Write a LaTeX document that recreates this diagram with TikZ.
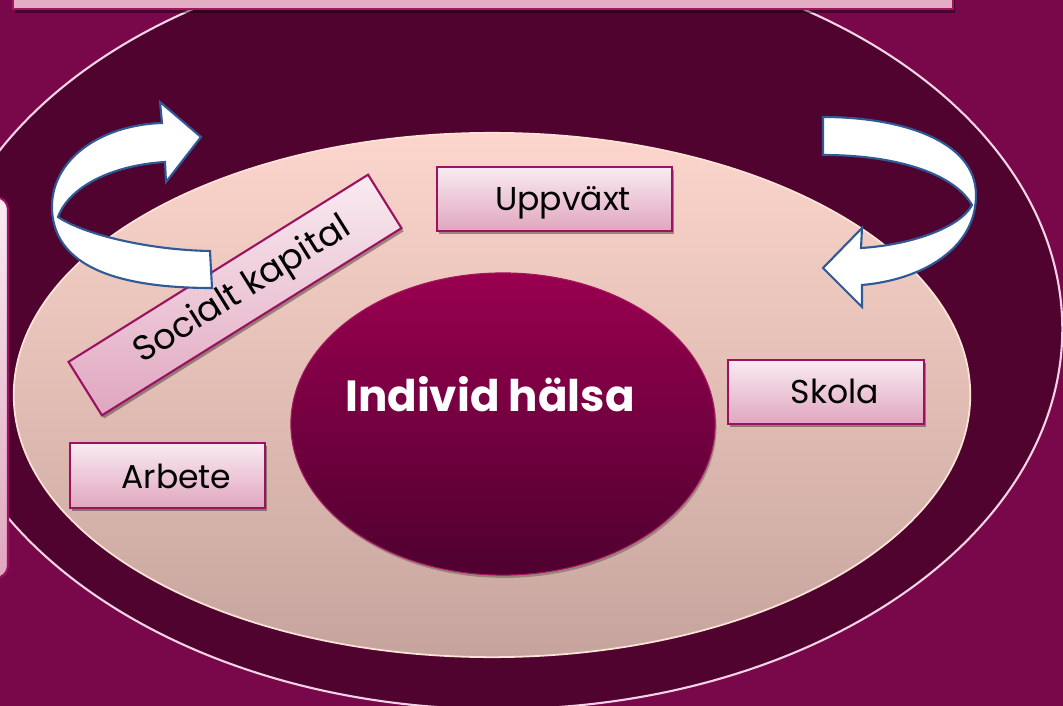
\documentclass[tikz,border=0pt]{standalone}
\usepackage{fontspec}
\setmainfont{Poppins}
\usetikzlibrary{shapes.geometric,shadows}

\definecolor{bgmag}{HTML}{78084A}
\definecolor{ringfill}{HTML}{50032F}
\definecolor{ringline}{HTML}{F5D3E6}
\definecolor{peachtop}{HTML}{FCD6CC}
\definecolor{peachbot}{HTML}{C6A49D}
\definecolor{peachline}{HTML}{FCE3D8}
\definecolor{coretop}{HTML}{99004F}
\definecolor{corebot}{HTML}{4F0030}
\definecolor{coreline}{HTML}{A8155F}
\definecolor{boxtop}{HTML}{F9EBF1}
\definecolor{boxbot}{HTML}{E0A6BF}
\definecolor{boxline}{HTML}{9C1262}
\definecolor{arrowline}{HTML}{2F5A95}
\definecolor{bartop}{HTML}{E3AEC3}
\definecolor{barline}{HTML}{A5155F}

\tikzset{
  labelbox/.style={rectangle, draw=boxline, line width=0.6pt,
    top color=boxtop, bottom color=boxbot, inner sep=0pt,
    drop shadow={shadow xshift=0.6pt, shadow yshift=-0.9pt, fill=black, opacity=0.35}},
  labeltext/.style={font=\fontsize{9.4pt}{11pt}\selectfont, text=black, anchor=base, inner sep=0pt},
  turnarrow/.style={fill=white, draw=arrowline, line width=0.6pt, line join=miter}
}

\begin{document}
\begin{tikzpicture}[x=0.01cm, y=-0.01cm]
\useasboundingbox (0,0) rectangle (1063,706);
\begin{scope}
\clip (0,0) rectangle (1063,706);

% background
\fill[bgmag] (0,0) rectangle (1063,706);

% outer ring
\node[ellipse, draw=ringline, line width=0.6pt, fill=ringfill, inner sep=0pt,
      minimum width=11.28cm, minimum height=7.6cm] (ring) at (498,329) {};

% partially visible side panel on the left
\draw[boxline, line width=0.6pt, top color=boxtop, bottom color=boxbot, rounded corners=3.5pt]
  (-40,197) rectangle (8,578);

% inner field
\node[ellipse, draw=peachline, line width=0.5pt, top color=peachtop, bottom color=peachbot,
      inner sep=0pt, minimum width=9.56cm, minimum height=5.24cm] (field) at (492,395) {};

% centre
\node[ellipse, draw=coreline, line width=0.3pt, top color=coretop, bottom color=corebot,
      inner sep=0pt, minimum width=4.24cm, minimum height=3.02cm,
      drop shadow={shadow xshift=0.4pt, shadow yshift=-0.8pt, fill=black, opacity=0.25}] (core) at (503,424) {};
\node[font=\bfseries\fontsize{12.4pt}{15pt}\selectfont, text=white, anchor=base, inner sep=0pt]
  (coretext) at (490,411) {Individ hälsa};

% labelled boxes
\node[labelbox, minimum width=2.35cm, minimum height=0.64cm] (upp) at (554.5,199) {};
\node[labeltext] (upptext) at (563,210) {Uppväxt};

\node[labelbox, minimum width=1.96cm, minimum height=0.64cm] (skola) at (826,392) {};
\node[labeltext] (skolatext) at (835,403) {Skola};

\node[labelbox, minimum width=1.95cm, minimum height=0.65cm] (arb) at (167.5,475.5) {};
\node[labeltext] (arbtext) at (176.5,488) {Arbete};

\node[labelbox, rotate=32, minimum width=3.53cm, minimum height=0.63cm] (soc) at (235,295) {};
\node[font=\fontsize{10pt}{12pt}\selectfont, text=black, rotate=32, inner sep=0pt] (soctext) at (243,291) {Socialt kapital};

% turning arrow, upper left
\draw[turnarrow]
  (212,288) .. controls (130,288) and (55,272) .. (52,210)
  .. controls (50,160) and (100,125) .. (162,123)
  -- (160,102) -- (201,137) -- (166,182) -- (165,162)
  .. controls (115,165) and (70,185) .. (58,217)
  .. controls (85,235) and (150,250) .. (210,251) -- cycle;

% turning arrow, upper right
\draw[turnarrow]
  (823,117) .. controls (900,117) and (976,140) .. (976,195)
  .. controls (976,250) and (920,280) .. (862,285)
  -- (862,307) -- (823,268) -- (862,228) -- (861,248)
  .. controls (910,245) and (960,228) .. (972,205)
  .. controls (955,175) and (900,155) .. (823,155) -- cycle;

% title strip along the top edge
\draw[barline, line width=0.6pt, fill=bartop,
      drop shadow={shadow xshift=0.5pt, shadow yshift=-1pt, fill=black, opacity=0.4}]
  (13,-10) rectangle (953,9);
\end{scope}
\end{tikzpicture}
\end{document}
